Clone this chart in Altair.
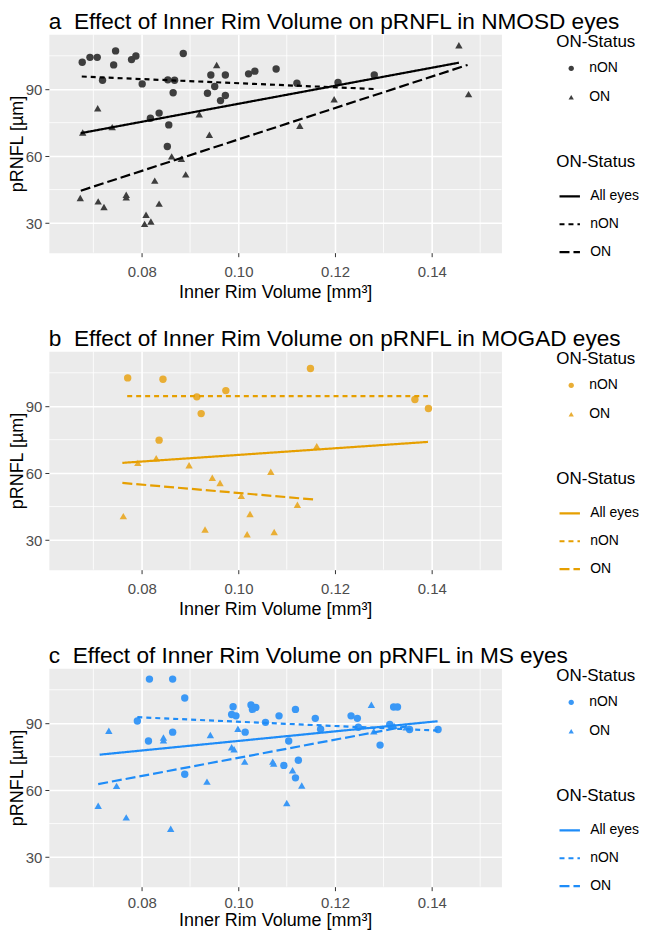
import altair as alt
import pandas as pd

FONT = "Liberation Sans"
X_DOMAIN = [0.0608, 0.1544]
Y_DOMAIN = [16.7, 114.6]
x_major = [0.08, 0.10, 0.12, 0.14]
y_major = [30, 60, 90]
x_minor = [0.07, 0.09, 0.11, 0.13, 0.15]
y_minor = [45, 75, 105]
fit_names = ["All eyes", "nON", "ON"]

# ---- Panel a: NMOSD ----
a_non_x = [0.0677, 0.0693, 0.0708, 0.0746, 0.0742, 0.0719, 0.0779, 0.0788, 0.0801, 0.0818,
           0.0836, 0.0854, 0.0856, 0.0853, 0.0865, 0.0868, 0.0886, 0.0936, 0.0943, 0.0951,
           0.0963, 0.0973, 0.0973, 0.1021, 0.1034, 0.1078, 0.1121, 0.1206, 0.1281]
a_non_y = [102.1, 104.3, 104.3, 107.2, 100.9, 94.0, 103.3, 104.9, 92.4, 77.0,
           79.3, 94.2, 74.0, 64.3, 88.4, 94.0, 106.0, 88.2, 96.4, 91.2,
           84.9, 87.2, 96.4, 96.9, 98.1, 99.1, 92.7, 93.0, 96.4]
a_on_x = [0.0673, 0.0678, 0.0709, 0.0710, 0.0722, 0.0739, 0.0768, 0.0768, 0.0809, 0.0806,
          0.0819, 0.0827, 0.0836, 0.0862, 0.0882, 0.0891, 0.0919, 0.0940, 0.0955, 0.1127,
          0.1198, 0.1456, 0.1476]
a_on_y = [41.2, 70.6, 81.5, 39.7, 37.2, 73.0, 42.7, 41.5, 33.7, 29.6,
          30.7, 49.0, 38.7, 59.9, 58.8, 51.8, 78.8, 69.6, 100.9, 73.6,
          85.5, 109.7, 87.8]
a_fit_x = [[0.0674, 0.1456], [0.0676, 0.1281], [0.0674, 0.1474]]
a_fit_y = [[70.3, 101.9], [95.7, 90.1], [44.5, 100.9]]

# ---- Panel b: MOGAD ----
b_non_x = [0.0771, 0.0844, 0.0914, 0.0923, 0.0974, 0.0836, 0.1149, 0.1365, 0.1393]
b_non_y = [102.7, 102.1, 94.2, 86.7, 97.0, 74.8, 106.9, 93.0, 89.0]
b_on_x = [0.0762, 0.0792, 0.0830, 0.0898, 0.0931, 0.0946, 0.0962, 0.1006, 0.1018, 0.1024,
          0.1067, 0.1074, 0.1122, 0.1162]
b_on_y = [40.7, 64.6, 66.7, 63.5, 34.7, 57.9, 55.6, 49.8, 32.6, 41.7,
          60.6, 33.6, 45.8, 72.1]
b_fit_x = [[0.0760, 0.1392], [0.0770, 0.1392], [0.0760, 0.1160]]
b_fit_y = [[64.6, 74.0], [94.5, 94.5], [55.6, 48.1]]

# ---- Panel c: MS ----
c_non_x = [0.0816, 0.0864, 0.0889, 0.0791, 0.0814, 0.0864, 0.0889, 0.0989, 0.0986, 0.0995,
           0.1014, 0.1026, 0.1029, 0.1036, 0.1056, 0.1084, 0.1094, 0.1104, 0.1118, 0.1118,
           0.1124, 0.1159, 0.1170, 0.1233, 0.1246, 0.1248, 0.1293, 0.1313, 0.1321, 0.1329,
           0.1354, 0.1413]
c_non_y = [109.8, 109.8, 101.3, 91.0, 82.0, 86.0, 67.1, 97.4, 93.9, 93.3,
           86.0, 98.2, 96.2, 97.1, 90.4, 93.3, 71.1, 82.0, 96.2, 65.5,
           73.4, 92.2, 87.3, 93.3, 92.2, 88.2, 80.2, 89.4, 97.3, 97.3,
           87.2, 87.2]
c_on_x = [0.0710, 0.0732, 0.0748, 0.0768, 0.0845, 0.0845, 0.0860, 0.0935, 0.0942, 0.0986,
          0.0991, 0.0999, 0.1013, 0.1071, 0.1073, 0.1100, 0.1112, 0.1131, 0.1275, 0.1280,
          0.1347, 0.1322]
c_on_y = [53.0, 86.6, 61.9, 47.8, 83.6, 82.3, 42.7, 63.8, 84.7, 79.2,
          78.3, 87.5, 72.8, 72.8, 71.9, 54.2, 68.9, 62.1, 98.3, 86.4,
          88.2, 88.8]
c_fit_x = [[0.0713, 0.1412], [0.0791, 0.1412], [0.0710, 0.1347]]
c_fit_y = [[75.9, 90.9], [92.7, 86.7], [62.7, 88.6]]

XS = alt.Scale(domain=X_DOMAIN, nice=False, zero=False)
YS = alt.Scale(domain=Y_DOMAIN, nice=False, zero=False)
Y_AXIS = alt.Axis(values=y_major, format="d", title="pRNFL [µm]", titleX=-22)


def panel(title, pcol, lcol, non_x, non_y, on_x, on_y, fit_x, fit_y, lab_pad, tit_pad):
    x_axis = alt.Axis(values=x_major, format=".2f", title="Inner Rim Volume [mm³]",
                      labelPadding=lab_pad, titlePadding=tit_pad)
    pts = pd.DataFrame({
        "x": non_x + on_x,
        "y": non_y + on_y,
        "status": ["nON"] * len(non_x) + ["ON"] * len(on_x),
    })
    rows = []
    for name, fx, fy in zip(fit_names, fit_x, fit_y):
        for xv, yv in zip(fx, fy):
            rows.append({"x": xv, "y": yv, "fit": name})
    lines = pd.DataFrame(rows)

    vgrid = alt.Chart(pd.DataFrame({"v": x_minor})).mark_rule(
        color="white", strokeWidth=0.8
    ).encode(x=alt.X("v:Q", scale=XS, axis=x_axis))
    hgrid = alt.Chart(pd.DataFrame({"v": y_minor})).mark_rule(
        color="white", strokeWidth=0.8
    ).encode(y=alt.Y("v:Q", scale=YS, axis=Y_AXIS))

    points = alt.Chart(pts).mark_point(
        filled=True, size=55, color=pcol, opacity=1
    ).encode(
        x=alt.X("x:Q", scale=XS, axis=x_axis),
        y=alt.Y("y:Q", scale=YS, axis=Y_AXIS),
        shape=alt.Shape(
            "status:N",
            scale=alt.Scale(domain=["nON", "ON"], range=["circle", "triangle-up"]),
            legend=alt.Legend(
                title="ON-Status", orient="none", legendX=509, legendY=0,
                symbolSize=28, symbolFillColor=pcol, symbolStrokeWidth=0,
                symbolOffset=8, labelOffset=11, titlePadding=10, rowPadding=15,
            ),
        ),
    )
    fits = alt.Chart(lines).mark_line(color=lcol, strokeWidth=2.2).encode(
        x=alt.X("x:Q", scale=XS, axis=x_axis),
        y=alt.Y("y:Q", scale=YS, axis=Y_AXIS),
        strokeDash=alt.StrokeDash(
            "fit:N",
            scale=alt.Scale(domain=fit_names, range=[[1, 0], [5, 4], [10, 4]]),
            legend=alt.Legend(
                title="ON-Status", orient="none", legendX=509, legendY=120,
                symbolType="stroke", symbolSize=420, symbolStrokeColor=lcol,
                symbolStrokeWidth=2.2, symbolOffset=2, labelOffset=9,
                titlePadding=14, rowPadding=9,
            ),
        ),
        detail="fit:N",
    )
    return alt.layer(vgrid, hgrid, points, fits).properties(
        width=454, height=219, title=title
    ).resolve_legend(shape="independent", strokeDash="independent")


SP = "\u00a0 "
pa = panel("a" + SP + "Effect of Inner Rim Volume on pRNFL in NMOSD eyes", "#3e3e3e", "#000000",
           a_non_x, a_non_y, a_on_x, a_on_y, a_fit_x, a_fit_y, 8, 4)
pb = panel("b" + SP + "Effect of Inner Rim Volume on pRNFL in MOGAD eyes", "#E9AE35", "#E69F00",
           b_non_x, b_non_y, b_on_x, b_on_y, b_fit_x, b_fit_y, 8, 4)
pc = panel("c" + SP + "Effect of Inner Rim Volume on pRNFL in MS eyes", "#3A98F6", "#1E8CF8",
           c_non_x, c_non_y, c_on_x, c_on_y, c_fit_x, c_fit_y, 5, 1)

chart = alt.vconcat(pa, pb, pc, spacing=24).properties(
    padding=0
).configure_view(
    fill="#EBEBEB", stroke="transparent"
).configure_axis(
    grid=True, gridColor="white", gridWidth=1.6, domain=False,
    tickColor="#333333", tickSize=4, tickWidth=1,
    labelFont=FONT, labelFontSize=15, labelColor="#4D4D4D",
    titleFont=FONT, titleFontSize=18, titleFontWeight="normal", titleColor="black",
).configure_axisY(
    labelPadding=3, titlePadding=2
).configure_title(
    font=FONT, fontSize=22.7, fontWeight="normal", anchor="start", frame="group",
    offset=0.5, color="black"
).configure_legend(
    titleFont=FONT, titleFontSize=17, titleFontWeight="normal", titleColor="black",
    labelFont=FONT, labelFontSize=14, labelColor="black"
)

chart.save("out.html", embed_options={"renderer": "svg", "actions": False})
